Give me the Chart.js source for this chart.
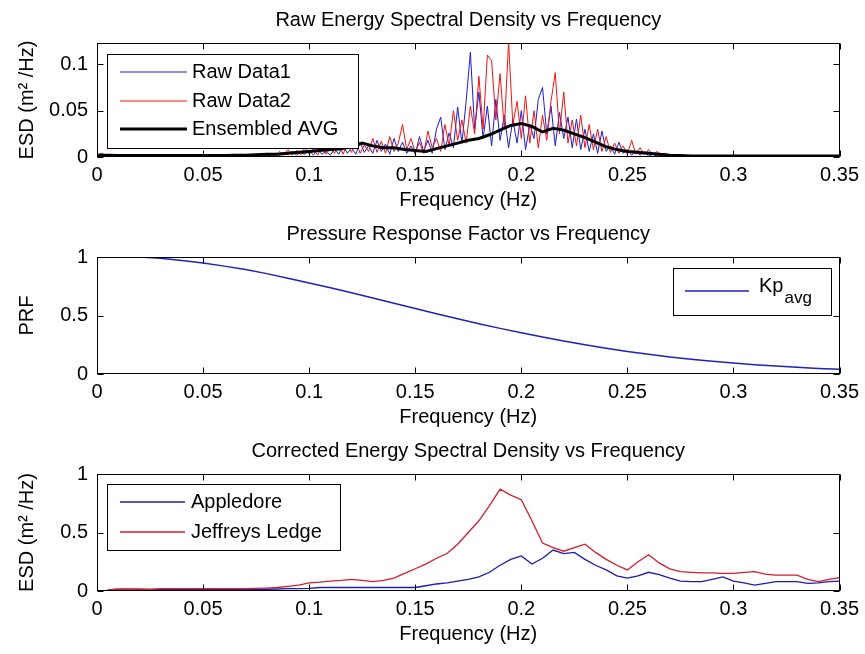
<!DOCTYPE html>
<html><head><meta charset="utf-8">
<script src="https://cdn.jsdelivr.net/npm/chart.js@4.4.1/dist/chart.umd.min.js"></script>
<style>
html,body{margin:0;padding:0;background:#fff;width:865px;height:654px;overflow:hidden}
canvas{position:absolute;left:0;display:block}
</style></head><body>
<canvas id="c1" width="865" height="217" style="top:0px"></canvas>
<canvas id="c2" width="865" height="217" style="top:217px"></canvas>
<canvas id="c3" width="865" height="217" style="top:434px"></canvas>
<script>
// ---------- data ----------
const xTicks = [0, 0.05, 0.1, 0.15, 0.2, 0.25, 0.3, 0.35];
const yTicksRaw = [0, 0.05, 0.1];
const yTicksUnit = [0, 0.5, 1];

const freqRaw = [
0,0.002,0.004,0.006,0.008,0.01,0.012,0.014,0.016,0.018,
0.02,0.022,0.024,0.026,0.028,0.03,0.032,0.034,0.036,0.038,
0.04,0.042,0.044,0.046,0.048,0.05,0.052,0.054,0.056,0.058,
0.06,0.062,0.064,0.066,0.068,0.07,0.072,0.074,0.076,0.078,
0.08,0.082,0.084,0.086,0.088,0.09,0.092,0.094,0.096,0.098,
0.1,0.102,0.104,0.106,0.108,0.11,0.112,0.114,0.116,0.118,
0.12,0.122,0.124,0.126,0.128,0.13,0.132,0.134,0.136,0.138,
0.14,0.142,0.144,0.146,0.148,0.15,0.152,0.154,0.156,0.158,
0.16,0.162,0.164,0.166,0.168,0.17,0.172,0.174,0.176,0.178,
0.18,0.182,0.184,0.186,0.188,0.19,0.192,0.194,0.196,0.198,
0.2,0.202,0.204,0.206,0.208,0.21,0.212,0.214,0.216,0.218,
0.22,0.222,0.224,0.226,0.228,0.23,0.232,0.234,0.236,0.238,
0.24,0.242,0.244,0.246,0.248,0.25,0.252,0.254,0.256,0.258,
0.26,0.262,0.264,0.266,0.268,0.27];

const rawData1 = [
0.001,0.003,0.001,0.002,0.001,0.001,0.002,0.001,0.001,0.002,
0.001,0.001,0.002,0.001,0.001,0.002,0.001,0.001,0.002,0.001,
0.001,0.002,0.001,0.001,0.002,0.001,0.002,0.001,0.001,0.002,
0.001,0.002,0.001,0.003,0.001,0.002,0.001,0.003,0.001,0.002,
0.001,0.002,0.004,0.002,0.005,0.003,0.006,0.002,0.005,0.003,
0.007,0.002,0.008,0.003,0.006,0.002,0.009,0.003,0.012,0.004,
0.010,0.003,0.016,0.005,0.012,0.004,0.018,0.006,0.014,0.003,
0.020,0.006,0.016,0.004,0.012,0.003,0.022,0.006,0.018,0.004,
0.030,0.043,0.008,0.026,0.010,0.054,0.015,0.060,0.113,0.030,
0.070,0.020,0.055,0.012,0.062,0.018,0.045,0.010,0.040,0.015,
0.050,0.008,0.035,0.020,0.062,0.075,0.025,0.055,0.012,0.048,
0.020,0.043,0.010,0.041,0.008,0.030,0.006,0.025,0.004,0.028,
0.006,0.012,0.003,0.016,0.004,0.008,0.002,0.006,0.002,0.005,
0.001,0.003,0.001,0.002,0.001,0.001];

const rawData2 = [
0.002,0.004,0.002,0.003,0.001,0.002,0.001,0.002,0.001,0.001,
0.002,0.001,0.001,0.002,0.001,0.001,0.001,0.002,0.001,0.001,
0.002,0.001,0.001,0.001,0.002,0.001,0.001,0.002,0.001,0.001,
0.002,0.001,0.002,0.001,0.003,0.001,0.002,0.001,0.003,0.001,
0.002,0.003,0.001,0.006,0.002,0.008,0.002,0.007,0.002,0.010,
0.003,0.009,0.002,0.012,0.003,0.010,0.004,0.015,0.003,0.014,
0.005,0.018,0.004,0.013,0.006,0.020,0.005,0.017,0.004,0.022,
0.006,0.015,0.035,0.008,0.020,0.005,0.016,0.004,0.028,0.010,
0.020,0.006,0.035,0.012,0.050,0.018,0.040,0.015,0.055,0.025,
0.087,0.030,0.110,0.104,0.040,0.090,0.030,0.125,0.035,0.060,
0.020,0.066,0.015,0.050,0.010,0.045,0.018,0.060,0.091,0.025,
0.070,0.015,0.040,0.012,0.045,0.010,0.035,0.008,0.030,0.006,
0.022,0.005,0.015,0.004,0.012,0.003,0.018,0.003,0.010,0.002,
0.008,0.002,0.006,0.002,0.004,0.001];

const freqAvg = [
0,0.005,0.01,0.015,0.02,0.025,0.03,0.035,0.04,0.045,
0.05,0.055,0.06,0.065,0.07,0.075,0.08,0.085,0.09,0.095,
0.1,0.105,0.11,0.115,0.12,0.125,0.13,0.135,0.14,0.145,
0.15,0.155,0.16,0.165,0.17,0.175,0.18,0.185,0.19,0.195,
0.2,0.205,0.21,0.215,0.22,0.225,0.23,0.235,0.24,0.245,
0.25,0.255,0.26,0.265,0.27,0.275,0.28,0.285,0.29,0.295,
0.3,0.305,0.31,0.315,0.32,0.325,0.33,0.335,0.34,0.345,0.35];

const ensembledAvg = [
0.002,0.002,0.0015,0.0015,0.0015,0.0015,0.0015,0.0015,0.0015,0.0015,
0.0015,0.0015,0.0015,0.002,0.002,0.0025,0.003,0.003,0.004,0.005,
0.006,0.007,0.008,0.009,0.011,0.015,0.012,0.010,0.010,0.008,
0.007,0.006,0.009,0.012,0.015,0.018,0.020,0.024,0.029,0.034,
0.036,0.033,0.027,0.031,0.029,0.025,0.021,0.016,0.011,0.008,
0.006,0.005,0.004,0.003,0.002,0.0015,0.001,0.001,0.001,0.001,
0.001,0.001,0.001,0.001,0.001,0.001,0.001,0.001,0.001,0.001,0.001];

const freqKp = [
0.02,0.03,0.04,0.05,0.06,0.07,0.08,0.09,0.1,0.11,
0.12,0.13,0.14,0.15,0.16,0.17,0.18,0.19,0.2,0.21,
0.22,0.23,0.24,0.25,0.26,0.27,0.28,0.29,0.3,0.31,
0.32,0.33,0.34,0.35];
const kpAvg = [
1.0,0.99,0.97,0.948,0.922,0.893,0.858,0.818,0.778,0.737,
0.694,0.65,0.605,0.56,0.515,0.472,0.43,0.39,0.352,0.316,
0.282,0.25,0.22,0.193,0.168,0.146,0.126,0.109,0.094,0.08,
0.068,0.057,0.048,0.04];

const freqCorr = [
0.005,0.01,0.015,0.02,0.025,0.03,0.035,0.04,0.045,0.05,
0.055,0.06,0.065,0.07,0.075,0.08,0.085,0.09,0.095,0.1,
0.105,0.11,0.115,0.12,0.125,0.13,0.135,0.14,0.145,0.15,
0.155,0.16,0.165,0.17,0.175,0.18,0.185,0.19,0.195,0.2,
0.205,0.21,0.215,0.22,0.225,0.23,0.235,0.24,0.245,0.25,
0.255,0.26,0.265,0.27,0.275,0.28,0.285,0.29,0.295,0.3,
0.305,0.31,0.315,0.32,0.325,0.33,0.335,0.34,0.345,0.35];
const appledore = [
0.01,0.015,0.015,0.015,0.012,0.012,0.012,0.012,0.012,0.012,
0.012,0.012,0.012,0.013,0.013,0.015,0.017,0.02,0.02,0.022,
0.03,0.03,0.03,0.03,0.03,0.03,0.03,0.03,0.03,0.03,
0.045,0.06,0.07,0.085,0.10,0.12,0.16,0.22,0.27,0.30,
0.23,0.28,0.35,0.32,0.33,0.27,0.22,0.18,0.13,0.11,
0.13,0.16,0.14,0.11,0.085,0.08,0.08,0.10,0.12,0.085,
0.07,0.05,0.065,0.08,0.08,0.08,0.065,0.07,0.08,0.085];
const jeffreysLedge = [
0.01,0.015,0.015,0.015,0.015,0.02,0.02,0.02,0.02,0.02,
0.02,0.02,0.02,0.02,0.022,0.025,0.03,0.04,0.05,0.07,
0.075,0.085,0.09,0.10,0.09,0.08,0.09,0.11,0.15,0.19,
0.23,0.28,0.32,0.40,0.50,0.60,0.73,0.87,0.82,0.78,
0.60,0.41,0.37,0.34,0.37,0.40,0.33,0.27,0.22,0.18,
0.25,0.31,0.24,0.19,0.165,0.16,0.155,0.155,0.15,0.15,
0.16,0.165,0.145,0.135,0.135,0.135,0.10,0.08,0.10,0.115];

// ---------- helpers ----------
const FAM = "'Liberation Sans', Arial, Helvetica, sans-serif";
Chart.defaults.font.family = FAM;
Chart.defaults.font.size = 20;
Chart.defaults.color = '#000';

const pts = (xs, ys) => xs.map((x, i) => ({x: x, y: ys[i]}));
const fmt = v => String(parseFloat(Number(v).toFixed(3)));

const axesPlugin = {
  id: 'matlabAxes',
  afterDatasetsDraw(chart, args, opts) {
    const {ctx, chartArea: a} = chart;
    const x = chart.scales.x, y = chart.scales.y;
    ctx.save();
    ctx.strokeStyle = '#000';
    ctx.lineWidth = 1;
    const L = Math.round(a.left) + 0.5, R = Math.round(a.right) - 0.5;
    const T = Math.round(a.top) + 0.5, B = Math.round(a.bottom) - 0.5;
    ctx.beginPath();
    x.ticks.forEach(t => {
      const px = Math.round(x.getPixelForValue(t.value)) + 0.5;
      ctx.moveTo(px, B); ctx.lineTo(px, B - 6);
      ctx.moveTo(px, T); ctx.lineTo(px, T + 6);
    });
    y.ticks.forEach(t => {
      const py = Math.round(y.getPixelForValue(t.value)) + 0.5;
      ctx.moveTo(L, py); ctx.lineTo(L + 6, py);
      ctx.moveTo(R, py); ctx.lineTo(R - 6, py);
    });
    ctx.stroke();
    ctx.strokeRect(L, T, R - L, B - T);
    ctx.fillStyle = '#000';
    ctx.font = '20px ' + FAM;
    ctx.textAlign = 'center';
    ctx.textBaseline = 'middle';
    ctx.fillText(opts.title, (a.left + a.right) / 2, a.top - 23);
    ctx.restore();
  }
};

const legendPlugin = {
  id: 'mlegend',
  afterDraw(chart, args, o) {
    if (!o || !o.rows) return;
    const ctx = chart.ctx, a = chart.chartArea;
    const bx = Math.round(o.right ? a.right - o.dx - o.w : a.left + o.dx);
    const by = Math.round(a.top + o.dy);
    ctx.save();
    ctx.fillStyle = '#fff';
    ctx.fillRect(bx, by, o.w, o.h);
    ctx.strokeStyle = '#000';
    ctx.lineWidth = 1;
    ctx.strokeRect(bx + 0.5, by + 0.5, o.w, o.h);
    o.rows.forEach(r => {
      const ds = chart.data.datasets[r.ds];
      const yy = by + r.y;
      ctx.strokeStyle = ds.borderColor;
      ctx.lineWidth = ds.borderWidth;
      ctx.beginPath();
      ctx.moveTo(bx + o.l1, yy); ctx.lineTo(bx + o.l2, yy);
      ctx.stroke();
      ctx.fillStyle = '#000';
      ctx.textAlign = 'left';
      ctx.textBaseline = 'middle';
      ctx.font = '20px ' + FAM;
      const txt = r.main || ds.label;
      ctx.fillText(txt, bx + o.tx, yy + (r.sub ? -5 : 0));
      if (r.sub) {
        const w = ctx.measureText(txt).width;
        ctx.font = '17px ' + FAM;
        ctx.fillText(r.sub, bx + o.tx + w + 1, yy + 7);
      }
    });
    ctx.restore();
  }
};

function xScale() {
  return {
    type: 'linear', min: 0, max: 0.35,
    grid: {display: false, drawTicks: false}, border: {display: false},
    afterBuildTicks: s => { s.ticks = xTicks.map(v => ({value: v})); },
    ticks: {padding: 6, maxRotation: 0, autoSkip: false, callback: v => fmt(v)},
    title: {display: true, text: 'Frequency (Hz)', padding: {top: 0, bottom: 5}},
    afterFit: s => { s.height = 60; }
  };
}
function yScale(max, tickArr, label) {
  return {
    type: 'linear', min: 0, max: max,
    grid: {display: false, drawTicks: false}, border: {display: false},
    afterBuildTicks: s => { s.ticks = tickArr.map(v => ({value: v})); },
    ticks: {padding: 9, callback: v => fmt(v)},
    title: {display: true, text: label, padding: {top: 15, bottom: 0}},
    afterFit: s => { s.width = 97; }
  };
}
function makeChart(id, datasets, yMax, yT, yLabel, title, padTop, legend) {
  return new Chart(document.getElementById(id), {
    type: 'line',
    data: {datasets: datasets},
    options: {
      responsive: false, animation: false,
      layout: {padding: {top: padTop, right: 21, left: 0, bottom: 0}},
      elements: {point: {radius: 0}, line: {tension: 0}},
      scales: {x: xScale(), y: yScale(yMax, yT, yLabel)},
      plugins: {legend: {display: false}, tooltip: {enabled: false},
                matlabAxes: {title: title}, mlegend: legend}
    },
    plugins: [axesPlugin, legendPlugin]
  });
}

makeChart('c1', [
  {label: 'Raw Data1', data: pts(freqRaw, rawData1), borderColor: '#1c1cd0', borderWidth: 1, order: 3},
  {label: 'Raw Data2', data: pts(freqRaw, rawData2), borderColor: '#f01414', borderWidth: 1, order: 2},
  {label: 'Ensembled AVG', data: pts(freqAvg, ensembledAvg), borderColor: '#000000', borderWidth: 3, order: 1}
], 0.123, yTicksRaw, 'ESD (m² /Hz)', 'Raw Energy Spectral Density vs Frequency', 43,
  {dx: 10, dy: 11, w: 251, h: 94, l1: 13, l2: 80, tx: 85,
   rows: [{ds: 0, y: 18}, {ds: 1, y: 47}, {ds: 2, y: 75}]});

makeChart('c2', [
  {label: 'Kp avg', data: pts(freqKp, kpAvg), borderColor: '#2020c0', borderWidth: 1.5}
], 1, yTicksUnit, 'PRF', 'Pressure Response Factor vs Frequency', 40,
  {right: true, dx: 9, dy: 11, w: 158, h: 47, l1: 12, l2: 76, tx: 86,
   rows: [{ds: 0, y: 23, main: 'Kp', sub: 'avg'}]});

makeChart('c3', [
  {label: 'Appledore', data: pts(freqCorr, appledore), borderColor: '#1c1cb0', borderWidth: 1.3, order: 2},
  {label: 'Jeffreys Ledge', data: pts(freqCorr, jeffreysLedge), borderColor: '#d81c2c', borderWidth: 1.3, order: 1}
], 1, yTicksUnit, 'ESD (m² /Hz)', 'Corrected Energy Spectral Density vs Frequency', 40,
  {dx: 10, dy: 10, w: 233, h: 66, l1: 13, l2: 78, tx: 84,
   rows: [{ds: 0, y: 18}, {ds: 1, y: 48}]});
</script>
</body></html>
